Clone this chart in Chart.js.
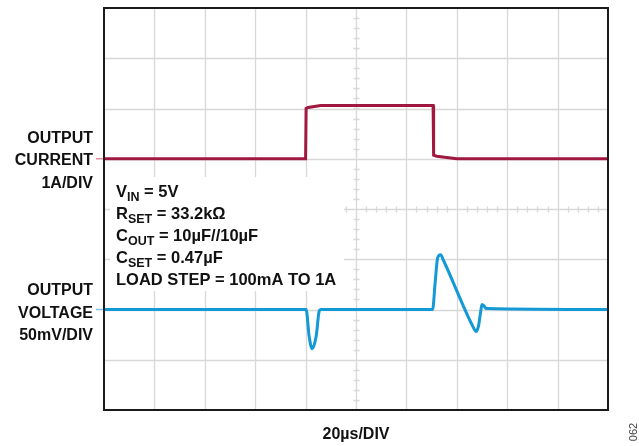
<!DOCTYPE html>
<html lang="en">
<head>
<meta charset="UTF-8">
<title>Load Transient Response</title>
<script src="https://cdn.jsdelivr.net/npm/chart.js"></script>
<style>
  body { margin: 0; background: #fff; }
  #wrap { width: 639px; height: 446px; }
</style>
</head>
<body>
<div id="wrap"><canvas id="scope" width="639" height="446"></canvas></div>
<script>
// time in µs (20µs/DIV), traces in screen divisions (0 = bottom edge, 8 = top edge)
const currentTime = [0, 80, 80.2, 81, 86, 130.6, 130.8, 132, 140, 200];
const currentDiv  = [5.0, 5.0, 6.0, 6.02, 6.06, 6.06, 5.07, 5.05, 5.0, 5.0];

const voltageTime = [0, 80.2, 81.4, 82.6, 84.2, 85.4, 86, 130.4, 131.4, 132.4, 133.6, 134.6, 146.6, 147.6, 148.6, 149.6, 150, 150.8, 151.6, 200];
const voltageDiv  = [2.0, 2.0, 1.47, 1.22, 1.47, 1.97, 2.0, 2.0, 2.53, 3.03, 3.09, 2.99, 1.64, 1.56, 1.67, 2.0, 2.10, 2.07, 2.02, 2.0];

const currentLabel = ['OUTPUT', 'CURRENT', '1A/DIV'];
const voltageLabel = ['OUTPUT', 'VOLTAGE', '50mV/DIV'];
const conditions = [
  ['V', 'IN', ' = 5V'],
  ['R', 'SET', ' = 33.2kΩ'],
  ['C', 'OUT', ' = 10µF//10µF'],
  ['C', 'SET', ' = 0.47µF'],
  ['LOAD STEP = 100mA TO 1A', '', '']
];

const RED = '#a0173f';
const BLUE = '#1399d6';
const FONT = '"Liberation Sans", Arial, sans-serif';

function toPoints(xs, ys) {
  return xs.map((v, i) => ({ x: v, y: ys[i] }));
}

const scopeGrid = {
  id: 'scopeGrid',
  beforeDatasetsDraw(chart) {
    const { ctx, chartArea: a, scales: { x, y } } = chart;
    ctx.save();
    ctx.strokeStyle = '#d8d8d8';
    ctx.lineWidth = 1.3;
    ctx.beginPath();
    for (let t = 20; t < 200; t += 20) {
      const px = Math.round(x.getPixelForValue(t)) + 0.5;
      ctx.moveTo(px, a.top); ctx.lineTo(px, a.bottom);
    }
    for (let d = 1; d < 8; d++) {
      const py = Math.round(y.getPixelForValue(d)) + 0.5;
      ctx.moveTo(a.left, py); ctx.lineTo(a.right, py);
    }
    // minor ticks on the centre axes
    const cx = Math.round(x.getPixelForValue(100)) + 0.5;
    const cy = Math.round(y.getPixelForValue(4)) + 0.5;
    for (let t = 4; t < 200; t += 4) {
      const px = Math.round(x.getPixelForValue(t)) + 0.5;
      ctx.moveTo(px, cy - 3); ctx.lineTo(px, cy + 3);
    }
    for (let d = 0.2; d < 8; d += 0.2) {
      const py = Math.round(y.getPixelForValue(d)) + 0.5;
      ctx.moveTo(cx - 3, py); ctx.lineTo(cx + 3, py);
    }
    ctx.stroke();

    // white panel behind the test conditions
    ctx.fillStyle = '#fff';
    ctx.fillRect(a.left + 6, 177, 234, 114);
    ctx.restore();
  },
  afterDatasetsDraw(chart) {
    const { ctx, chartArea: a, scales: { x, y } } = chart;
    ctx.save();
    ctx.strokeStyle = '#1a1a1a';
    ctx.lineWidth = 2;
    ctx.strokeRect(a.left, a.top, a.right - a.left, a.bottom - a.top);

    // channel markers
    const iy = y.getPixelForValue(5), vy = y.getPixelForValue(2);
    ctx.lineWidth = 1.5;
    ctx.strokeStyle = '#e08aa3';
    ctx.beginPath(); ctx.moveTo(96, iy); ctx.lineTo(a.left - 1, iy); ctx.stroke();
    ctx.strokeStyle = '#7fc6ea';
    ctx.beginPath(); ctx.moveTo(96, vy); ctx.lineTo(a.left - 1, vy); ctx.stroke();

    ctx.fillStyle = '#111';
    ctx.font = 'bold 16px ' + FONT;
    ctx.textAlign = 'right';
    ctx.textBaseline = 'alphabetic';
    currentLabel.forEach((s, i) => ctx.fillText(s, 93, iy + 6.5 + (i - 1) * 22.3));
    voltageLabel.forEach((s, i) => ctx.fillText(s, 93, vy + 8 + (i - 1) * 22.1));

    // test conditions
    ctx.textAlign = 'left';
    conditions.forEach((c, i) => {
      const base = 196.5 + i * 22.2;
      let px = 116;
      ctx.font = 'bold 16.5px ' + FONT;
      ctx.fillText(c[0], px, base);
      px += ctx.measureText(c[0]).width;
      if (c[1]) {
        ctx.font = 'bold 12.5px ' + FONT;
        ctx.fillText(c[1], px, base + 4);
        px += ctx.measureText(c[1]).width;
      }
      ctx.font = 'bold 16.5px ' + FONT;
      ctx.fillText(c[2], px, base);
    });

    ctx.textAlign = 'center';
    ctx.font = 'bold 16px ' + FONT;
    ctx.fillText('20µs/DIV', x.getPixelForValue(100), 438.5);

    ctx.save();
    ctx.translate(637, 432);
    ctx.rotate(-Math.PI / 2);
    ctx.font = '11px ' + FONT;
    ctx.fillStyle = '#444';
    ctx.fillText('062', 0, 0);
    ctx.restore();
    ctx.restore();
  }
};

new Chart(document.getElementById('scope'), {
  type: 'line',
  data: {
    datasets: [{
      label: 'Output Current',
      data: toPoints(currentTime, currentDiv),
      borderColor: RED,
      borderWidth: 3,
      pointRadius: 0,
      tension: 0
    }, {
      label: 'Output Voltage',
      data: toPoints(voltageTime, voltageDiv),
      borderColor: BLUE,
      borderWidth: 3,
      pointRadius: 0,
      cubicInterpolationMode: 'monotone'
    }]
  },
  options: {
    responsive: false,
    animation: false,
    layout: { padding: { left: 104, right: 31, top: 8, bottom: 36 } },
    plugins: { legend: { display: false }, tooltip: { enabled: false } },
    scales: {
      x: { type: 'linear', min: 0, max: 200, display: false },
      y: { min: 0, max: 8, display: false }
    }
  },
  plugins: [scopeGrid]
});
</script>
</body>
</html>
